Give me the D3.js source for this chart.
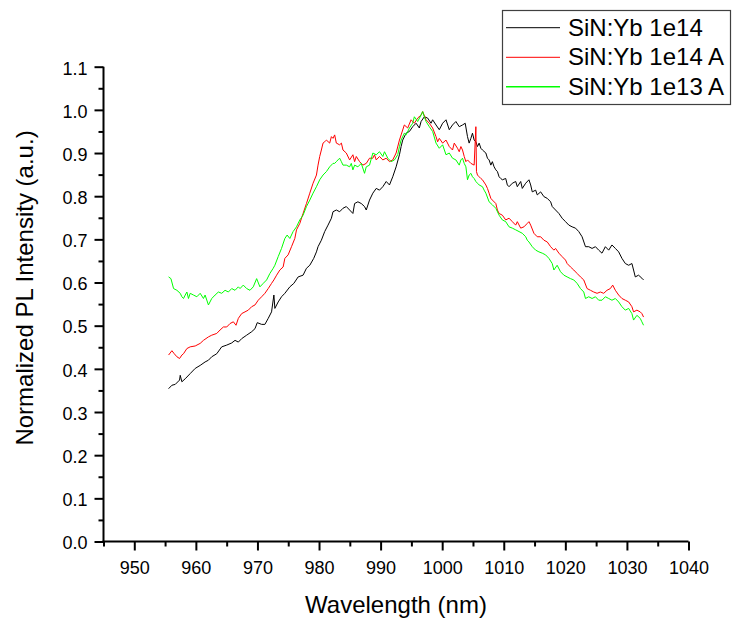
<!DOCTYPE html>
<html><head><meta charset="utf-8">
<script src="https://cdn.jsdelivr.net/npm/d3@7"></script>
<style>
body{margin:0;background:#fff}
text{font-family:"Liberation Sans",Arial,sans-serif;fill:#000}
</style>
</head><body>
<svg id="chart" width="732" height="619"></svg>
<script>
// ---------- data ----------
const xMajorTicks = [950,960,970,980,990,1000,1010,1020,1030,1040];
const xMinorTicks = [945,955,965,975,985,995,1005,1015,1025,1035];
const yMajorTicks = [0,0.1,0.2,0.3,0.4,0.5,0.6,0.7,0.8,0.9,1.0,1.1];
const yMinorTicks = [0.05,0.15,0.25,0.35,0.45,0.55,0.65,0.75,0.85,0.95,1.05];
const seriesNames = ["SiN:Yb 1e14","SiN:Yb 1e14 A","SiN:Yb 1e13 A"];
const seriesColors = ["#000000","#ff0000","#00ff00"];

const sinYb1e14 = [
[955.57,.354],[956.11,.362],[956.65,.364],[957.35,.374],[957.46,.385],[957.73,.370],[958.27,.377],[959.08,.389],
[959.89,.401],[960.70,.408],[961.50,.416],[962.04,.420],[962.58,.428],[963.39,.435],[964.20,.451],[965.01,.455],
[965.82,.460],[966.36,.466],[966.90,.462],[967.44,.470],[968.25,.478],[969.06,.486],[969.60,.493],[969.97,.507],
[970.68,.503],[971.21,.503],[971.75,.517],[972.29,.532],[972.67,.571],[972.83,.540],[973.37,.555],[973.91,.567],
[974.45,.575],[975.26,.590],[975.91,.598],[976.61,.613],[977.41,.617],[977.96,.633],[978.50,.640],[979.14,.656],
[979.58,.671],[979.84,.683],[980.38,.698],[980.92,.718],[981.46,.733],[982.01,.749],[982.27,.764],[982.81,.768],
[983.35,.764],[983.89,.772],[984.43,.776],[984.97,.768],[985.50,.760],[985.78,.783],[986.31,.787],[986.86,.783],
[987.39,.776],[987.67,.768],[988.20,.791],[988.74,.807],[989.29,.818],[989.82,.814],[990.36,.822],[990.91,.834],
[991.44,.826],[991.97,.845],[992.52,.868],[993.06,.896],[993.33,.915],[993.59,.930],[994.14,.946],[994.68,.950],
[995.21,.961],[995.76,.969],[996.29,.958],[996.57,.973],[997.10,.984],[997.64,.981],[998.19,.969],[998.45,.977],
[999.00,.965],[999.53,.954],[1000.07,.969],[1000.62,.977],[1001.15,.954],[1001.68,.965],[1002.23,.973],[1002.77,.961],
[1003.30,.965],[1003.74,.969],[1004.11,.938],[1004.38,.923],[1004.66,.934],[1004.92,.946],[1005.19,.930],[1005.47,.926],
[1005.73,.915],[1006.00,.923],[1006.28,.911],[1006.54,.907],[1007.09,.900],[1007.35,.888],[1007.62,.884],[1007.90,.872],
[1008.15,.880],[1008.43,.868],[1008.71,.861],[1008.97,.857],[1009.24,.845],[1009.51,.841],[1009.77,.838],[1010.32,.841],
[1010.58,.826],[1010.86,.822],[1011.39,.830],[1011.94,.834],[1012.20,.822],[1012.75,.834],[1013.01,.818],[1013.56,.830],
[1014.09,.838],[1014.37,.826],[1014.63,.810],[1015.18,.814],[1015.44,.803],[1015.99,.810],[1016.52,.799],[1017.06,.795],
[1017.61,.787],[1017.87,.776],[1018.41,.768],[1018.95,.760],[1019.48,.749],[1020.03,.741],[1020.57,.733],[1021.10,.729],
[1021.65,.726],[1022.18,.718],[1022.72,.706],[1023.27,.683],[1023.80,.683],[1024.34,.679],[1024.89,.683],[1025.42,.675],
[1025.95,.668],[1026.50,.683],[1027.04,.675],[1027.57,.687],[1028.12,.679],[1028.66,.671],[1029.19,.656],[1029.74,.644],
[1030.28,.640],[1030.81,.644],[1031.08,.629],[1031.36,.613],[1031.89,.617],[1032.43,.610],[1032.70,.606]
];

const sinYb1e14A = [
[955.57,.432],[956.11,.442],[956.49,.435],[956.92,.428],[957.35,.424],[957.73,.432],[957.99,.435],[958.54,.447],
[959.08,.451],[959.89,.453],[960.70,.459],[961.23,.466],[962.04,.474],[962.58,.478],[963.39,.482],[963.93,.490],
[964.47,.497],[965.01,.497],[965.55,.505],[966.09,.509],[966.52,.501],[966.90,.517],[967.44,.528],[967.98,.532],
[968.51,.536],[969.06,.544],[969.60,.548],[970.13,.559],[970.68,.567],[971.21,.575],[971.75,.586],[972.29,.598],
[972.67,.606],[973.11,.617],[973.64,.629],[974.17,.636],[974.45,.656],[974.98,.664],[975.53,.683],[976.07,.702],
[976.34,.722],[976.88,.737],[977.41,.760],[977.96,.783],[978.50,.807],[979.03,.830],[979.58,.849],[979.84,.872],
[980.11,.892],[980.38,.907],[980.65,.923],[980.92,.926],[981.20,.930],[981.73,.923],[982.01,.938],[982.27,.934],
[982.54,.942],[982.81,.923],[983.35,.919],[983.63,.923],[983.89,.907],[984.43,.900],[984.97,.884],[985.50,.896],
[985.78,.880],[986.05,.892],[986.59,.880],[987.12,.872],[987.67,.876],[988.20,.888],[988.74,.888],[989.01,.896],
[989.29,.884],[989.82,.892],[990.36,.884],[990.91,.888],[991.44,.880],[991.97,.884],[992.52,.900],[993.06,.930],
[993.33,.942],[993.85,.965],[994.40,.958],[994.95,.977],[995.48,.969],[996.02,.981],[996.57,.988],[996.83,.996],
[997.38,.977],[997.91,.969],[998.45,.958],[999.00,.938],[999.26,.926],[999.53,.934],[1000.07,.923],[1000.62,.930],
[1001.15,.915],[1001.68,.907],[1001.96,.923],[1002.49,.911],[1002.77,.903],[1003.04,.915],[1003.30,.907],[1003.58,.892],
[1003.85,.880],[1004.11,.884],[1004.66,.876],[1005.19,.872],[1005.47,.961],[1005.57,.857],[1005.73,.849],[1006.00,.845],
[1006.28,.841],[1006.54,.838],[1007.09,.826],[1007.35,.818],[1007.62,.807],[1007.90,.795],[1008.15,.791],[1008.71,.783],
[1008.97,.768],[1009.24,.760],[1009.77,.756],[1010.32,.745],[1010.86,.749],[1011.39,.741],[1011.94,.733],[1012.20,.741],
[1012.75,.726],[1013.28,.729],[1013.82,.737],[1014.09,.741],[1014.37,.733],[1014.90,.714],[1015.44,.706],[1015.99,.706],
[1016.52,.698],[1017.06,.694],[1017.61,.683],[1018.14,.675],[1018.41,.679],[1018.95,.668],[1019.48,.660],[1020.03,.652],
[1020.29,.644],[1020.84,.636],[1021.37,.629],[1021.91,.621],[1022.46,.613],[1022.99,.606],[1023.53,.586],[1024.08,.582],
[1024.61,.578],[1025.15,.575],[1025.69,.578],[1026.23,.575],[1026.76,.582],[1027.31,.586],[1027.69,.594],[1028.12,.582],
[1028.66,.571],[1029.19,.563],[1029.74,.559],[1030.28,.555],[1030.81,.544],[1031.08,.532],[1031.62,.536],[1032.16,.532],
[1032.43,.528],[1032.70,.520]
];

const sinYb1e13A = [
[955.57,.613],[955.95,.609],[956.38,.586],[956.92,.582],[957.46,.575],[957.73,.567],[957.99,.563],[958.27,.571],
[958.54,.578],[958.80,.563],[959.08,.575],[959.61,.571],[960.16,.567],[960.70,.575],[961.23,.563],[961.50,.571],
[962.04,.548],[962.58,.563],[963.12,.571],[963.66,.578],[964.20,.575],[964.74,.582],[965.28,.578],[965.82,.586],
[966.36,.582],[966.90,.590],[967.17,.586],[967.70,.594],[968.25,.586],[968.79,.582],[969.32,.590],[969.87,.609],
[970.40,.590],[970.94,.598],[971.49,.606],[972.02,.621],[972.56,.633],[972.83,.640],[973.37,.660],[973.91,.679],
[974.45,.702],[974.82,.710],[975.26,.702],[975.79,.718],[976.34,.729],[976.88,.745],[977.41,.756],[977.96,.776],
[978.50,.791],[979.03,.807],[979.58,.822],[980.11,.838],[980.65,.849],[981.20,.857],[981.73,.868],[982.27,.876],
[982.54,.876],[982.81,.880],[983.07,.884],[983.35,.888],[983.63,.880],[983.89,.872],[984.43,.872],[984.97,.868],
[985.24,.876],[985.50,.861],[985.78,.872],[986.31,.868],[986.86,.876],[987.39,.853],[987.67,.868],[988.20,.872],
[988.74,.900],[989.29,.896],[989.82,.903],[990.36,.892],[990.63,.903],[991.17,.888],[991.72,.880],[992.25,.884],
[992.78,.896],[993.06,.915],[993.33,.930],[993.85,.946],[994.14,.942],[994.68,.958],[995.21,.969],[995.48,.984],
[996.02,.973],[996.57,.988],[996.83,.996],[997.10,.984],[997.38,.973],[997.91,.961],[998.45,.950],[999.00,.923],
[999.53,.911],[1000.07,.919],[1000.62,.896],[1001.15,.900],[1001.68,.888],[1002.23,.884],[1002.77,.872],[1003.04,.884],
[1003.30,.888],[1003.58,.876],[1003.85,.868],[1004.11,.838],[1004.38,.849],[1004.66,.853],[1004.92,.845],[1005.19,.841],
[1005.47,.834],[1005.73,.830],[1006.00,.826],[1006.54,.822],[1006.81,.814],[1007.09,.807],[1007.62,.787],[1008.15,.780],
[1008.71,.772],[1009.24,.756],[1009.77,.745],[1010.32,.741],[1010.86,.729],[1011.39,.726],[1011.94,.722],[1012.48,.718],
[1013.01,.714],[1013.56,.706],[1013.82,.698],[1014.09,.694],[1014.63,.683],[1015.18,.675],[1015.71,.671],[1016.25,.668],
[1016.80,.664],[1017.33,.656],[1017.87,.644],[1018.14,.629],[1018.67,.640],[1019.22,.625],[1019.76,.617],[1020.29,.613],
[1020.84,.609],[1021.37,.606],[1021.91,.598],[1022.46,.586],[1022.99,.578],[1023.27,.563],[1023.80,.567],[1024.34,.563],
[1024.89,.567],[1025.42,.559],[1025.95,.559],[1026.50,.567],[1027.04,.563],[1027.57,.559],[1028.12,.563],[1028.66,.555],
[1029.19,.544],[1029.74,.536],[1030.28,.540],[1030.81,.528],[1031.08,.513],[1031.62,.524],[1032.16,.517],[1032.43,.509],
[1032.70,.501]
];

const allSeries = [sinYb1e14, sinYb1e14A, sinYb1e13A];

// ---------- chart ----------
const svg = d3.select("#chart");
svg.append("rect").attr("width",732).attr("height",619).attr("fill","#fff");

const x = d3.scaleLinear().domain([945,1040]).range([103.5,688.5]);
const y = d3.scaleLinear().domain([0,1.1]).range([541.5,66.7]);

// curves
const line = d3.line().x(d=>x(d[0])).y(d=>y(d[1]));
allSeries.forEach((s,i)=>{
  svg.append("path").datum(s).attr("d",line)
    .attr("fill","none").attr("stroke",seriesColors[i]).attr("stroke-width",1)
    .attr("stroke-linejoin","round");
});

// axes
function styleAxis(g){
  g.selectAll("path.domain").attr("stroke","#000").attr("stroke-width",2);
  g.selectAll(".tick line").attr("stroke","#000").attr("stroke-width",2);
}
const gxMinor = svg.append("g").attr("transform",`translate(0,${y(0)})`)
  .call(d3.axisBottom(x).tickValues(xMinorTicks).tickSize(5).tickSizeOuter(0).tickFormat(""));
gxMinor.select("path.domain").remove();
styleAxis(gxMinor);
const gx = svg.append("g").attr("transform",`translate(0,${y(0)})`)
  .call(d3.axisBottom(x).tickValues(xMajorTicks).tickSize(9).tickSizeOuter(0).tickFormat(d3.format("d")));
styleAxis(gx);
gx.selectAll("text").attr("y",32).attr("dy",0).style("font-size","18px")
  .style("font-family","'Liberation Sans',Arial,sans-serif").attr("fill","#000");

const gyMinor = svg.append("g").attr("transform",`translate(${x(945)},0)`)
  .call(d3.axisLeft(y).tickValues(yMinorTicks).tickSize(5).tickSizeOuter(0).tickFormat(""));
gyMinor.select("path.domain").remove();
styleAxis(gyMinor);
const gy = svg.append("g").attr("transform",`translate(${x(945)},0)`)
  .call(d3.axisLeft(y).tickValues(yMajorTicks).tickSize(9).tickSizeOuter(0).tickFormat(d3.format(".1f")));
styleAxis(gy);
gy.selectAll("text").attr("x",-16).attr("dy",0).attr("y",7.3).style("font-size","18px")
  .style("font-family","'Liberation Sans',Arial,sans-serif").attr("fill","#000");
// make domain lines meet at the corner
gx.select("path.domain").attr("d",`M${x(945)-1},0H${x(1040)}`);
gy.select("path.domain").attr("d",`M0,${y(1.1)}V${y(0)+1}`);

// axis titles
svg.append("text").attr("x",396).attr("y",613).attr("text-anchor","middle")
  .style("font-size","24px").text("Wavelength (nm)");
svg.append("text").attr("transform","translate(33,288) rotate(-90)").attr("text-anchor","middle")
  .style("font-size","24px").text("Normalized PL Intensity (a.u.)");

// legend
const lg = svg.append("g");
lg.append("rect").attr("x",502.5).attr("y",10.5).attr("width",228).attr("height",94)
  .attr("fill","#fff").attr("stroke","#404040").attr("stroke-width",1.2);
const rowY = [27.7,57.3,86.8];
seriesNames.forEach((n,i)=>{
  lg.append("line").attr("x1",506).attr("x2",560).attr("y1",rowY[i]).attr("y2",rowY[i])
    .attr("stroke",seriesColors[i]).attr("stroke-width",i===2?1.6:1);
  lg.append("text").attr("x",568).attr("y",rowY[i]+7.8).style("font-size","24px").text(n);
});
</script>
</body></html>
